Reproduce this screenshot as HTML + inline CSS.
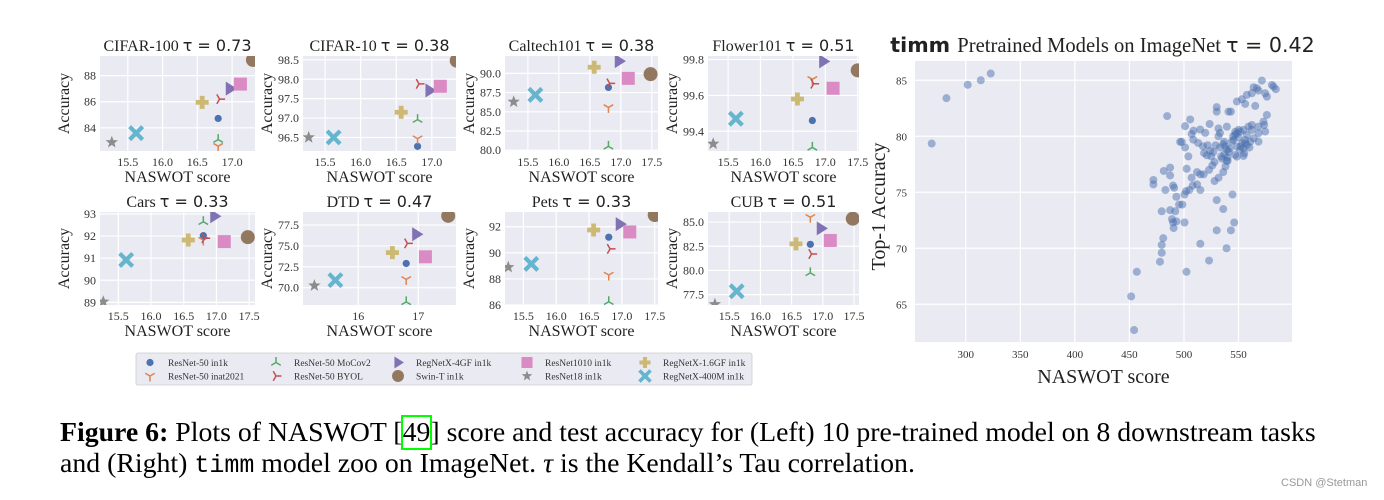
<!DOCTYPE html>
<html><head><meta charset="utf-8"><style>
body{margin:0;background:#fff;width:1384px;height:500px;overflow:hidden}
svg{position:absolute;left:0;top:0}
.cap{position:absolute;left:60px;font-family:"Liberation Serif",serif;font-size:27.8px;line-height:31px;color:#000;white-space:nowrap}
</style></head><body>
<svg id="fig" width="1384" height="500" xmlns="http://www.w3.org/2000/svg"></svg>
<div class="cap" style="top:417px"><b>Figure 6:</b> Plots of NASWOT [<span style="outline:2px solid #0f0;outline-offset:0">49</span>] score and test accuracy for (Left) 10 pre-trained model on 8 downstream tasks</div>
<div class="cap" style="top:448px">and (Right) <span style="font-family:'Liberation Mono',monospace;font-size:25px">timm</span> model zoo on ImageNet. <i>τ</i> is the Kendall’s Tau correlation.</div>
<div style="position:absolute;left:1281px;top:477px;font-family:'Liberation Sans',sans-serif;font-size:11px;color:#999">CSDN @Stetman</div>
<script>
// ---- Data ----
const models = ["ResNet-50 in1k","ResNet-50 inat2021","ResNet-50 MoCov2","ResNet-50 BYOL","RegNetX-4GF in1k","Swin-T in1k","ResNet1010 in1k","ResNet18 in1k","RegNetX-1.6GF in1k","RegNetX-400M in1k"];
const datasets = ["CIFAR-100","CIFAR-10","Caltech101","Flower101","Cars","DTD","Pets","CUB"];
const taus = ["0.73","0.38","0.38","0.51","0.33","0.47","0.33","0.51"];
const naswot = [16.8,16.8,16.8,16.82,16.97,17.45,17.12,15.27,16.57,15.62];
const swinNaswot = [17.3,17.35,17.48,17.5,17.48,17.5,17.5,17.48];
const accCifar100 = [84.72,82.6,83.1,86.2,87.0,89.2,87.35,82.9,85.95,83.6];
const accCifar10 = [96.27,96.47,96.96,97.88,97.71,98.48,97.82,96.5,97.15,96.5];
const accCaltech = [88.17,85.57,80.5,88.7,91.6,89.9,89.35,86.3,90.8,87.2];
const accFlower = [99.46,99.69,99.31,99.665,99.79,99.74,99.64,99.33,99.58,99.47];
const accCars = [92.02,91.82,92.65,91.9,92.9,91.95,91.75,89.03,91.82,90.92];
const accDtd = [72.9,71.0,68.3,75.3,76.4,78.6,73.7,70.25,74.2,70.9];
const accPets = [91.2,88.3,86.25,90.3,92.2,92.9,91.6,88.9,91.75,89.15];
const accCub = [82.7,85.5,79.75,81.7,84.35,85.35,83.1,76.5,82.75,77.85];
const xTicks = [[15.5,16,16.5,17],[15.5,16,16.5,17],[15.5,16,16.5,17,17.5],[15.5,16,16.5,17,17.5],[15.5,16,16.5,17,17.5],[16,17],[15.5,16,16.5,17,17.5],[15.5,16,16.5,17,17.5]];
const yTicks = [[84,86,88],[96.5,97,97.5,98,98.5],[80,82.5,85,87.5,90],[99.4,99.6,99.8],[89,90,91,92,93],[70,72.5,75,77.5],[86,88,90,92],[77.5,80,82.5,85]];
const xDomains = [[15.1,17.33],[15.19,17.34],[15.13,17.6],[15.19,17.52],[15.22,17.59],[15.08,17.63],[15.22,17.55],[15.16,17.58]];
const yDomains = [[82.23,89.5],[96.15,98.6],[79.9,92.26],[99.29,99.82],[88.88,93.09],[67.93,79.06],[86.0,93.13],[76.43,86.04]];
// timm scatter
const timmX = [268.8,282.3,301.8,313.8,322.9,484.6,472,472,481.5,479.6,481,479.6,479.6,478,456.8,451.6,454.3,487.3,487.3,490,491,483,487.3,492,489,490,490.5,493,493,495.5,498.5,500.5,502.3,515,523,539,530,543,546,536,530,544.5,515,500.5,502,505,508,512,504,502.5,507,512,515,518,523,526,528,531.7,536,538,539,518.4,521,496.5,498,501,507,508.5,501,505.7,508.7,514.8,519.5,513,517.5,523.5,521.7,524,525,528,530,530,531.6,533,531.6,543.9,545.4,546.9,548.5,550,551.5,554.6,557.6,556.1,553.1,548.5,551.5,554.6,557.6,560.7,563.8,562.2,568.3,574.4,539.3,540.8,543,548.5,553.1,557.6,562.2,566.8,571.4,563.8,568.3,574.4,576,580.6,582.1,584.2,556.1,565.3,576,572.9,573.5,568.3,562.2,559.2,568.3,548.5,546.9,554.6,555.2,536,538,539.5,537,540,541,535,534,540,542,537,533,529,527,545,550,552,547,556,560];
const timmY = [79.35,83.4,84.6,85.0,85.6,81.8,76.1,75.7,76.9,73.3,70.9,70.3,69.6,68.8,67.9,65.7,62.7,77.2,76.5,75.6,75.4,75.2,73.4,73.3,72.6,72.3,71.8,72.4,74.6,73.9,73.9,72.3,67.9,70.4,68.9,70.0,71.6,71.6,72.3,73.5,74.3,74.8,75.2,74.8,75.1,75.2,75.6,75.7,78.2,77.1,76.3,76.8,76.6,76.6,77.0,77.4,76.0,76.3,76.8,77.3,77.8,78.5,78.3,79.5,79.5,79.0,80.2,79.7,80.9,81.5,80.5,80.6,80.3,79.4,79.1,81.1,79.2,78.7,78.2,77.7,82.2,82.6,80.7,80.3,80.0,79.52,79.67,80.12,80.27,80.57,80.42,80.57,80.12,79.67,79.38,79.08,78.78,78.93,79.23,79.52,79.82,80.57,80.27,80.42,80.86,82.2,82.2,83.1,83.3,83.69,83.84,84.29,84.97,84.38,84.08,83.84,83.54,84.58,84.43,84.2,82.89,82.71,81.9,81.31,81.01,80.86,81.01,80.86,79.52,78.18,78.33,78.24,78.48,79.3,79.1,78.8,78.4,78.1,78.6,78.0,78.2,77.8,78.9,79.5,79.0,79.2,78.6,80.0,79.9,79.1,80.4,79.4,79.0];
const timmXTicks = [300,350,400,450,500,550];
const timmYTicks = [65,70,75,80,85];

// ---- Drawing ----
const NS="http://www.w3.org/2000/svg";
const svg=document.getElementById('fig');
function mk(tag,attrs,parent){const e=document.createElementNS(NS,tag);for(const k in attrs)e.setAttribute(k,attrs[k]);(parent||svg).appendChild(e);return e;}
const colors=["#4c72b0","#dd8452","#55a868","#c44e52","#8172b3","#937860","#da8bc3","#8c8c8c","#ccb974","#64b5cd"];
const SERIF='"Liberation Serif",serif', DJ='"DejaVu Sans",sans-serif';
function marker(g,i,cx,cy,s){
  const c=colors[i];let e;
  if(i===0){e=mk('circle',{cx,cy,r:3.6*s,fill:c},g);}
  else if(i===5){e=mk('circle',{cx,cy,r:7*s,fill:c},g);}
  else if(i===4){const r=7*s;e=mk('polygon',{points:`${cx-r*0.6},${cy-r} ${cx+r},${cy} ${cx-r*0.6},${cy+r}`,fill:c},g);}
  else if(i===6){const r=6.5*s;e=mk('rect',{x:cx-r,y:cy-r,width:2*r,height:2*r,fill:c},g);}
  else if(i===7){const R=6.5*s,r=2.7*s;let p=[];for(let k=0;k<10;k++){const a=-Math.PI/2+k*Math.PI/5,rr=k%2?r:R;p.push((cx+rr*Math.cos(a)).toFixed(1)+','+(cy+rr*Math.sin(a)).toFixed(1));}e=mk('polygon',{points:p.join(' '),fill:c},g);}
  else if(i===8){const a=6.5*s,b=2.4*s;e=mk('path',{d:`M${cx-b},${cy-a}h${2*b}v${a-b}h${a-b}v${2*b}h${-(a-b)}v${a-b}h${-2*b}v${-(a-b)}h${-(a-b)}v${-2*b}h${a-b}z`,fill:c},g);}
  else if(i===9){e=mk('path',{d:`M${cx-5*s},${cy-5*s}L${cx+5*s},${cy+5*s}M${cx+5*s},${cy-5*s}L${cx-5*s},${cy+5*s}`,stroke:c,'stroke-width':4.2*s,'stroke-linecap':'square'},g);}
  else{const L=5.5*s;
    let angs=i===1?[-90,30,150]:(i===2?[90,-30,210]:[0,120,240]);
    let d='';angs.forEach(a=>{const r=a*Math.PI/180;d+=`M${cx},${cy}L${cx+L*Math.cos(r)},${cy-L*Math.sin(r)}`;});
    e=mk('path',{d,stroke:c,'stroke-width':1.5*s,fill:'none'},g);}
  return e;
}
const accAll=[accCifar100,accCifar10,accCaltech,accFlower,accCars,accDtd,accPets,accCub];
const lefts=[100,303,505,708], rights=[255,456,658,859];
const tops=[56,212], bottoms=[151,305];
datasets.forEach((name,d)=>{
  const col=d%4,row=Math.floor(d/4);
  const L=lefts[col],R=rights[col],T=tops[row],B=bottoms[row];
  const [x0,x1]=xDomains[d],[y0,y1]=yDomains[d];
  const sx=v=>L+(v-x0)/(x1-x0)*(R-L), sy=v=>B-(v-y0)/(y1-y0)*(B-T);
  const g=mk('g',{});
  
  
  mk('rect',{x:L,y:T,width:R-L,height:B-T,fill:'#eaeaf2'},g);
  xTicks[d].forEach(v=>{mk('line',{x1:sx(v),x2:sx(v),y1:T,y2:B,stroke:'#fff','stroke-width':1.2},g);
    const t=mk('text',{x:sx(v),y:B+15,'text-anchor':'middle','font-family':SERIF,'font-size':12,fill:'#333'},g);t.textContent=(v%1===0&&d!==5)?v.toFixed(1):String(v);});
  yTicks[d].forEach(v=>{mk('line',{x1:L,x2:R,y1:sy(v),y2:sy(v),stroke:'#fff','stroke-width':1.2},g);
    const t=mk('text',{x:L-4,y:sy(v)+4,'text-anchor':'end','font-family':SERIF,'font-size':12,fill:'#333'},g);
    const dec=yTicks[d].some(z=>z%1!==0);t.textContent=dec?v.toFixed(1):String(v);});
  const cl=mk('clipPath',{id:'c'+d},g);mk('rect',{x:L,y:T,width:R-L,height:B-T},cl);
  const mg=mk('g',{'clip-path':'url(#c'+d+')'},g);
  models.forEach((m,i)=>{const xv=i===5?swinNaswot[d]:naswot[i];const e=marker(mg,i,sx(xv),sy(accAll[d][i]),1);
    
    });
  const tt=mk('text',{x:(L+R)/2,y:T-5,'text-anchor':'middle','font-size':16,fill:'#222'},g);
  
  const a=mk('tspan',{'font-family':SERIF},tt);a.textContent=name+' ';
  const b=mk('tspan',{'font-family':DJ},tt);b.textContent='τ = '+taus[d];
  const xl=mk('text',{x:(L+R)/2,y:B+31,'text-anchor':'middle','font-family':SERIF,'font-size':16,fill:'#222'},g);xl.textContent='NASWOT score';
  
  const yl=mk('text',{transform:`translate(${L-31},${(T+B)/2}) rotate(-90)`,'text-anchor':'middle','font-family':SERIF,'font-size':16,fill:'#222'},g);yl.textContent='Accuracy';
  
});
// legend
const lg=mk('g',{});

mk('rect',{x:136,y:353,width:616,height:32,rx:2,fill:'#eaeaf2',stroke:'#ccc','stroke-width':0.8},lg);
const legCols=[150,276,398,527,645];
models.forEach((m,i)=>{
  const col=Math.floor(i/2),row=i%2;const cx=legCols[col],cy=row?376:362.5;
  const s=(i===0||i===1||i===2||i===3)?1:0.85;
  const e=marker(lg,i,cx,cy,s);
  
  const t=mk('text',{x:cx+18,y:cy+3.5,'font-family':SERIF,'font-size':9.5,fill:'#333'},lg);t.textContent=m;
  
});
// timm plot
(function(){
  const L=915,R=1292,T=61,B=342,x0=253.5,x1=599,y0=61.63,y1=86.72;
  const sx=v=>L+(v-x0)/(x1-x0)*(R-L), sy=v=>B-(v-y0)/(y1-y0)*(B-T);
  const g=mk('g',{});
  
  mk('rect',{x:L,y:T,width:R-L,height:B-T,fill:'#eaeaf2'},g);
  timmXTicks.forEach(v=>{mk('line',{x1:sx(v),x2:sx(v),y1:T,y2:B,stroke:'#fff','stroke-width':1.2},g);
    const t=mk('text',{x:sx(v),y:B+16,'text-anchor':'middle','font-family':SERIF,'font-size':11,fill:'#333'},g);t.textContent=v;
    });
  timmYTicks.forEach(v=>{mk('line',{x1:L,x2:R,y1:sy(v),y2:sy(v),stroke:'#fff','stroke-width':1.2},g);
    const t=mk('text',{x:L-8,y:sy(v)+4,'text-anchor':'end','font-family':SERIF,'font-size':11,fill:'#333'},g);t.textContent=v;
    });
  timmX.forEach((xv,i)=>{const c=mk('circle',{cx:sx(xv),cy:sy(timmY[i]),r:4,fill:'#4c72b0','fill-opacity':0.5},g);
    });
  const tt=mk('text',{x:(L+R)/2-1,y:52,'text-anchor':'middle','font-size':20.6,fill:'#222'},g);
  
  const a=mk('tspan',{'font-family':DJ,'font-weight':'bold'},tt);a.textContent='timm ';
  const b=mk('tspan',{'font-family':SERIF},tt);b.textContent='Pretrained Models on ImageNet ';
  const c=mk('tspan',{'font-family':DJ},tt);c.textContent='τ = 0.42';
  const xl=mk('text',{x:(L+R)/2,y:383,'text-anchor':'middle','font-family':SERIF,'font-size':20,fill:'#222'},g);xl.textContent='NASWOT score';
  
  const yl=mk('text',{transform:`translate(885,${(T+B)/2+5}) rotate(-90)`,'text-anchor':'middle','font-family':SERIF,'font-size':20,fill:'#222'},g);yl.textContent='Top-1 Accuracy';
  
})();
</script>
</body></html>
